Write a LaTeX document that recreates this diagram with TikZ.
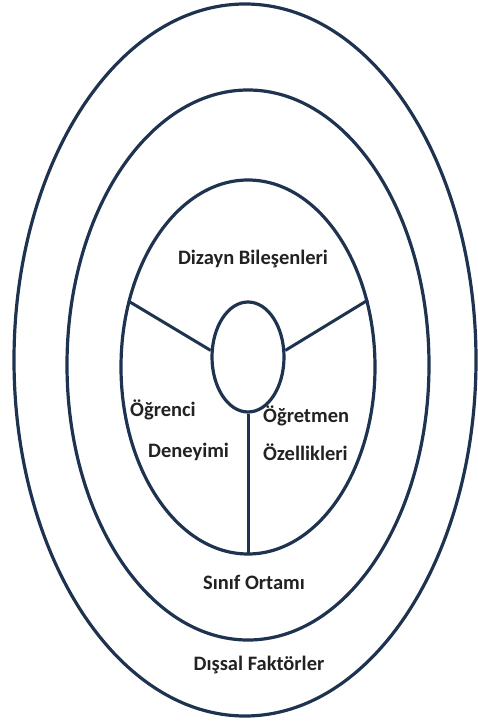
\documentclass[tikz,border=0pt]{standalone}
\usepackage{fontspec}
\usetikzlibrary{shapes.geometric}
\setmainfont{Carlito}
\definecolor{ink}{HTML}{1E3350}
\definecolor{txt}{HTML}{222222}
\begin{document}
\begin{tikzpicture}[x=1pt,y=-1pt,
  ring/.style={draw=ink,line width=3.2pt},
  spoke/.style={draw=ink,line width=3pt},
  lbl/.style={text=txt,font=\bfseries\fontsize{20.5}{24}\selectfont,inner sep=0pt},
  lbll/.style={lbl,anchor=west}]
\useasboundingbox (0,0) rectangle (478,722);
\draw[ring] (245,360) ellipse [x radius=231,y radius=356];
\draw[ring] (248,365) ellipse [x radius=181,y radius=275];
\draw[ring] (248,367) ellipse [x radius=127,y radius=187];
\node[ring,ellipse,minimum width=72pt,minimum height=110pt,inner sep=0pt] (c) at (248,357) {};
\coordinate (l) at (130,302);
\coordinate (r) at (368,300);
\coordinate (b) at (248,553);
\draw[spoke] (l) -- (c.170);
\draw[spoke] (r) -- (c.10);
\draw[spoke] (b) -- (c.south);
\node[lbl] (dz) at (253,259) {Dizayn Bileşenleri};
\node[lbll] (og) at (130,410) {Öğrenci};
\node[lbll] (de) at (148,452) {Deneyimi};
\node[lbll] (ot) at (263,416) {Öğretmen};
\node[lbll] (oz) at (263,452) {Özellikleri};
\node[lbl] (so) at (254,582) {Sınıf Ortamı};
\node[lbl] (df) at (259,665) {Dışsal Faktörler};
\end{tikzpicture}
\end{document}
